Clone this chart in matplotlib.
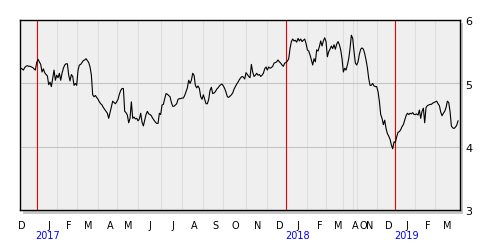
import matplotlib
matplotlib.use("Agg")
import matplotlib.pyplot as plt
import matplotlib.transforms as mtransforms
from matplotlib.patches import Rectangle


# daily closes, one value per session (gap between Apr and Oct 2018 in the source)
PRICES = [
    5.24, 5.23, 5.21, 5.25, 5.27, 5.28, 5.27, 5.27, 5.26, 5.25, 5.23, 5.21,
    5.33, 5.38, 5.34, 5.30, 5.18, 5.23, 5.17, 5.14, 5.12, 4.98, 5.02, 4.95,
    5.08, 5.21, 5.05, 5.13, 5.09, 5.16, 5.05, 5.16, 5.24, 5.29, 5.31, 5.31,
    5.13, 5.04, 5.14, 5.11, 4.97, 5.00, 4.97, 5.21, 5.29, 5.30, 5.33, 5.36,
    5.37, 5.39, 5.36, 5.33, 5.26, 5.13,
    4.82, 4.79, 4.81, 4.78, 4.75, 4.71, 4.68, 4.66, 4.62, 4.59, 4.56, 4.53,
    4.45, 4.54, 4.63, 4.72, 4.70, 4.68, 4.71, 4.75, 4.83, 4.89, 4.92, 4.92,
    4.56, 4.54, 4.50, 4.38, 4.45, 4.71, 4.45, 4.47, 4.44, 4.45, 4.41, 4.44,
    4.53, 4.39, 4.33, 4.42, 4.51, 4.56, 4.52, 4.51, 4.49, 4.45, 4.42, 4.39,
    4.37, 4.37, 4.53, 4.51, 4.66, 4.67, 4.76, 4.84, 4.83,
    4.81, 4.79, 4.70, 4.64, 4.64, 4.66, 4.68, 4.75, 4.76, 4.76, 4.77, 4.77,
    4.81, 4.87, 4.93, 5.05, 5.00, 5.05, 5.16, 5.13, 4.97, 4.93, 4.96, 4.92,
    4.79, 4.75, 4.82, 4.75, 4.68, 4.68, 4.75, 4.89, 4.94, 4.84, 4.85, 4.87,
    4.91, 4.93, 4.96, 4.98, 4.99, 4.96, 4.92, 4.86, 4.79, 4.78, 4.80, 4.82,
    4.85, 4.91, 4.95, 4.99, 5.02, 5.06, 5.09,
    5.11, 5.10, 5.07, 5.17, 5.14, 5.11, 5.09, 5.30, 5.18, 5.11, 5.13, 5.16,
    5.13, 5.14, 5.11, 5.13, 5.16, 5.23, 5.26, 5.21, 5.26, 5.24, 5.25, 5.27,
    5.32, 5.33, 5.34, 5.37, 5.34, 5.32, 5.29, 5.27, 5.32, 5.33, 5.35, 5.39,
    5.55, 5.66, 5.70, 5.67, 5.68, 5.65, 5.71, 5.67, 5.70, 5.66, 5.68, 5.70,
    5.63, 5.53, 5.51, 5.45, 5.37, 5.29, 5.39, 5.34,
    5.53, 5.51, 5.58, 5.67, 5.59, 5.67, 5.72, 5.66, 5.42, 5.50, 5.54, 5.59,
    5.55, 5.61, 5.54, 5.62, 5.66, 5.61, 5.53, 5.39, 5.18, 5.24, 5.21, 5.29,
    5.39, 5.55, 5.76, 5.71, 5.50, 5.32, 5.29, 5.34, 5.46, 5.54, 5.56, 5.54,
    5.47, 5.37, 5.25, 5.08, 4.97, 4.97, 5.00, 4.96, 4.95, 4.95, 4.87, 4.72,
    4.51, 4.45, 4.35, 4.42, 4.29, 4.21, 4.17,
    4.12, 4.03, 3.97, 4.08, 4.07, 4.16, 4.23, 4.24, 4.27, 4.32, 4.35, 4.42,
    4.49, 4.53, 4.51, 4.53, 4.52, 4.54, 4.51, 4.51, 4.52, 4.50, 4.58, 4.45,
    4.56, 4.61, 4.38, 4.62, 4.65, 4.66, 4.67, 4.67, 4.69, 4.70, 4.71, 4.72,
    4.68, 4.65, 4.55, 4.49, 4.53, 4.56, 4.62, 4.72, 4.70, 4.56, 4.33, 4.30,
    4.29, 4.31, 4.34, 4.41,
]

# session index where each month begins (Jan 2017 .. Mar 2019)
MONTH_STARTS = [12, 27, 42, 58, 72, 88, 105, 121, 137, 152, 169, 185,
                199, 215, 229, 242, 249, 252, 267,
                281, 296, 311]
MONTH_LABELS = ["D",
                "J", "F", "M", "A", "M", "J", "J", "A", "S", "O", "N", "D",
                "J", "F", "M", "A", "O", "N", "D",
                "J", "F", "M"]
YEAR_STARTS = [12, 199, 281]
YEAR_LABELS = ["2017", "2018", "2019"]
Y_TICKS = [3, 4, 5, 6]


fig = plt.figure(figsize=(5, 2.5), dpi=100)
fig.patch.set_facecolor("white")

# drop shadow behind the plot frame
fig.patches.append(Rectangle((0.0466, 0.146), 0.88, 0.762, transform=fig.transFigure,
                             facecolor="#c8c8c8", edgecolor="none", zorder=0))

ax = fig.add_axes([0.0406, 0.1588, 0.88, 0.7612])
ax.set_facecolor("#efefef")
ax.set_zorder(1)

for s in MONTH_STARTS:
    if s in YEAR_STARTS:
        ax.axvline(s, color="#ee0000", lw=0.8, zorder=2)
    else:
        ax.axvline(s, color="#dedede", lw=0.8, zorder=1)
for y in Y_TICKS[1:-1]:
    ax.axhline(y, color="#c4c4c4", lw=0.8, zorder=1)

ax.plot(range(len(PRICES)), PRICES, color="black", lw=0.8, zorder=3)

ax.set_xlim(-0.3, 329.7)
ax.set_ylim(3, 6)

for sp in ax.spines.values():
    sp.set_linewidth(1.0)
    sp.set_color("black")

ax.set_xticks([])
ax.yaxis.tick_right()
ax.set_yticks(Y_TICKS)
ax.set_yticklabels([str(v) for v in Y_TICKS])
ax.tick_params(axis="y", length=0, pad=3.6, labelsize=8)
# labels sit a touch below their value in the original
offset = mtransforms.ScaledTranslation(0, -1.5 / 72, fig.dpi_scale_trans)
for lbl in ax.get_yticklabels():
    lbl.set_verticalalignment("center")
    lbl.set_transform(lbl.get_transform() + offset)

trans = mtransforms.blended_transform_factory(ax.transData, ax.transAxes)
label_pos = [1] + [s + 9 for s in MONTH_STARTS]
# Oct/Nov 2018 are only 3 sessions apart, spread them a little
label_pos[17] -= 0.8
label_pos[18] += 0.8
for x, m in zip(label_pos, MONTH_LABELS):
    ax.text(x, -0.084, m, transform=trans, ha="center", va="center",
            fontsize=7, color="black", clip_on=False)
for x, yr in zip(YEAR_STARTS, YEAR_LABELS):
    ax.text(x + 8.3, -0.137, yr, transform=trans, ha="center", va="center",
            fontsize=7, color="#0000ff", clip_on=False)

fig.savefig("out.png", dpi=100)
